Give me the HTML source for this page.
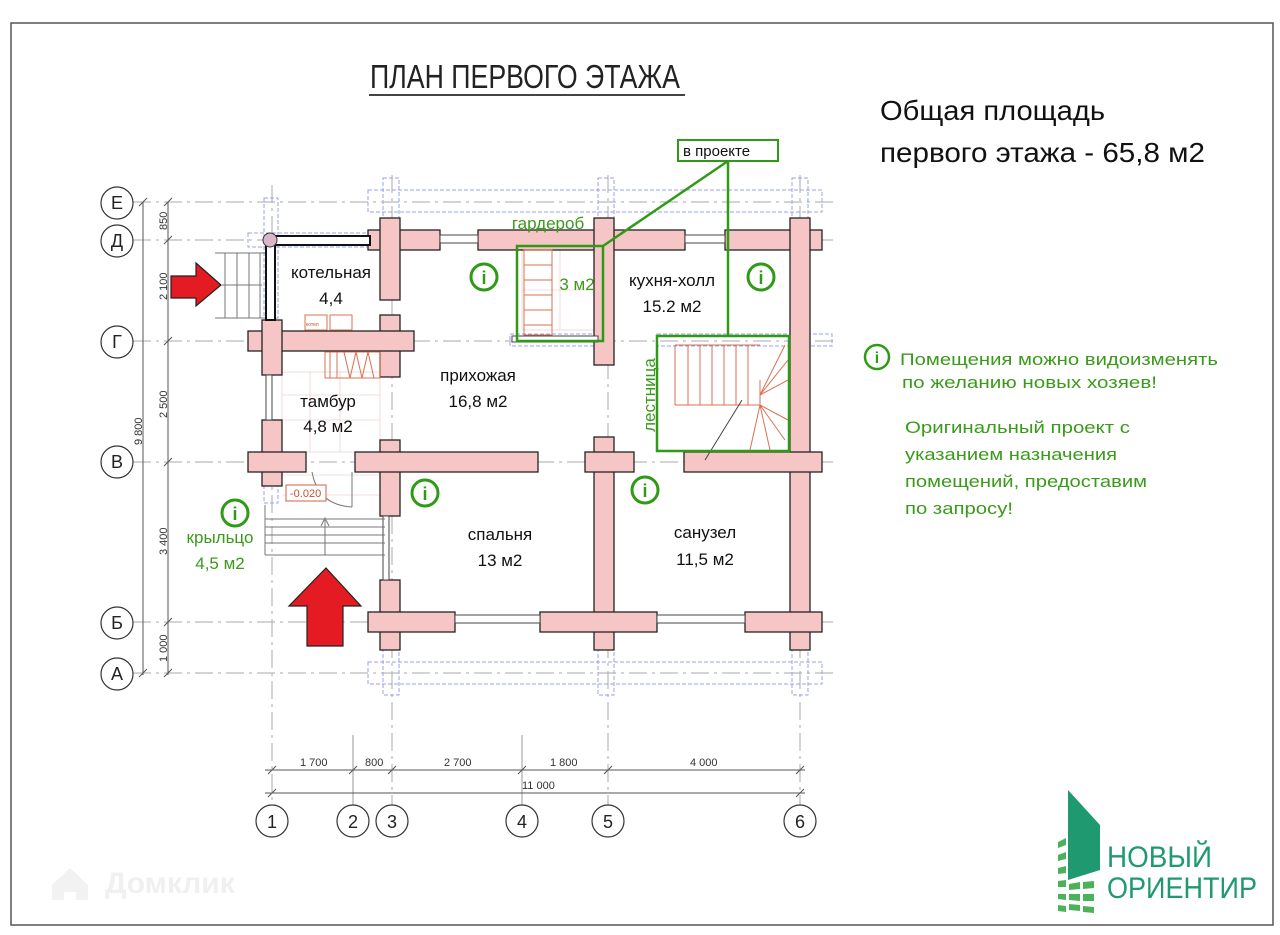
<!DOCTYPE html>
<html><head><meta charset="utf-8"><style>
html,body{margin:0;padding:0;background:#fff;}
svg{display:block;font-family:"Liberation Sans","Noto Sans CJK SC",sans-serif;}
</style></head><body>
<svg width="1280" height="935" viewBox="0 0 1280 935" xmlns="http://www.w3.org/2000/svg">
<rect x="0" y="0" width="1280" height="935" fill="#fff"/>
<rect x="11" y="23" width="1262" height="902" fill="none" stroke="#555" stroke-width="1.5"/>

<!-- title -->
<text x="370" y="88" font-size="33" textLength="310" lengthAdjust="spacingAndGlyphs" fill="#222">ПЛАН ПЕРВОГО ЭТАЖА</text>
<line x1="369" y1="95" x2="685" y2="95" stroke="#444" stroke-width="2"/>

<text x="880" y="120" font-size="28" fill="#111" textLength="225" lengthAdjust="spacingAndGlyphs">Общая площадь</text>
<text x="880" y="162" font-size="28" fill="#111" textLength="325" lengthAdjust="spacingAndGlyphs">первого этажа - 65,8 м2</text>

<!-- grid lines -->
<g stroke="#aaa" stroke-width="1" stroke-dasharray="18,5,3,5">
<line x1="133" y1="202" x2="835" y2="202"/>
<line x1="133" y1="240" x2="835" y2="240"/>
<line x1="133" y1="341" x2="835" y2="341"/>
<line x1="133" y1="462" x2="835" y2="462"/>
<line x1="133" y1="622" x2="835" y2="622"/>
<line x1="133" y1="673" x2="835" y2="673"/>
<line x1="272" y1="185" x2="272" y2="805"/>
<line x1="392" y1="175" x2="392" y2="805"/>
<line x1="608" y1="175" x2="608" y2="805"/>
<line x1="800" y1="175" x2="800" y2="805"/>
</g>
<g stroke="#999" stroke-width="1">
<line x1="353" y1="735" x2="353" y2="805"/>
<line x1="522" y1="735" x2="522" y2="805"/>
</g>

<!-- blue ghost rects -->
<g fill="none" stroke="#9aa0ee" stroke-width="1" stroke-dasharray="4,2">
<rect x="368" y="190" width="454" height="22"/>
<rect x="368" y="662" width="454" height="22"/>
<rect x="383" y="178" width="16" height="45"/>
<rect x="598" y="178" width="16" height="45"/>
<rect x="792" y="178" width="16" height="45"/>
<rect x="383" y="650" width="16" height="45"/>
<rect x="598" y="650" width="16" height="45"/>
<rect x="792" y="650" width="16" height="45"/>
<rect x="264" y="198" width="14" height="120"/>
<rect x="248" y="233" width="120" height="14"/>
<rect x="264" y="485" width="14" height="18"/>
<rect x="510" y="334" width="96" height="12"/>
<rect x="657" y="334" width="175" height="12"/>
</g>

<!-- interior light grids (tiles) -->
<g stroke="#f3d0d0" stroke-width="0.8" fill="none">
<rect x="282" y="372" width="98" height="80"/>
<line x1="282" y1="395" x2="380" y2="395"/><line x1="282" y1="420" x2="380" y2="420"/>
<line x1="310" y1="372" x2="310" y2="452"/><line x1="340" y1="372" x2="340" y2="452"/>
<rect x="522" y="250" width="72" height="80"/>
<line x1="560" y1="250" x2="560" y2="330"/><line x1="522" y1="290" x2="594" y2="290"/>
<line x1="282" y1="475" x2="385" y2="475"/><line x1="282" y1="495" x2="385" y2="495"/>
</g>

<!-- walls: outlines -->
<g fill="#f6c6c6" stroke="#222" stroke-width="1.3">
<rect x="368" y="230" width="72" height="20"/>
<rect x="478" y="230" width="207" height="20"/>
<rect x="725" y="230" width="97" height="20"/>
<rect x="380" y="218" width="20" height="82"/>
<rect x="380" y="315" width="20" height="62"/>
<rect x="380" y="440" width="20" height="76"/>
<rect x="380" y="580" width="20" height="70"/>
<rect x="594" y="218" width="20" height="147"/>
<rect x="594" y="437" width="20" height="213"/>
<rect x="790" y="218" width="20" height="432"/>
<rect x="248" y="331" width="166" height="20"/>
<rect x="262" y="320" width="20" height="55"/>
<rect x="262" y="420" width="20" height="66"/>
<rect x="248" y="452" width="58" height="20"/>
<rect x="355" y="452" width="183" height="20"/>
<rect x="585" y="452" width="49" height="20"/>
<rect x="684" y="452" width="138" height="20"/>
<rect x="368" y="612" width="87" height="20"/>
<rect x="540" y="612" width="117" height="20"/>
<rect x="745" y="612" width="77" height="20"/>
</g>
<g fill="#f6c6c6">
<rect x="381" y="231" width="18" height="18"/>
<rect x="595" y="231" width="18" height="18"/>
<rect x="791" y="231" width="18" height="18"/>
<rect x="381" y="332" width="18" height="18"/>
<rect x="263" y="332" width="18" height="18"/>
<rect x="381" y="453" width="18" height="18"/>
<rect x="263" y="453" width="18" height="18"/>
<rect x="595" y="453" width="18" height="18"/>
<rect x="791" y="453" width="18" height="18"/>
<rect x="381" y="613" width="18" height="18"/>
<rect x="595" y="613" width="18" height="18"/>
<rect x="791" y="613" width="18" height="18"/>
</g>
<!-- windows -->
<g fill="#fff" stroke="#444" stroke-width="1">
<rect x="440" y="235" width="38" height="8"/>
<rect x="685" y="235" width="40" height="8"/>
<rect x="455" y="615" width="85" height="8"/>
<rect x="657" y="615" width="88" height="8"/>
<rect x="383" y="516" width="6" height="64"/>
<rect x="266" y="375" width="6" height="45"/>
<rect x="512" y="336" width="86" height="6"/>
</g>
<!-- thin top-left wall -->
<rect x="270" y="236" width="100" height="9" fill="#fff" stroke="#111" stroke-width="2"/>
<rect x="266" y="240" width="9" height="80" fill="#fff" stroke="#111" stroke-width="2"/>
<circle cx="270" cy="240" r="7" fill="#d8b8c8" stroke="#333"/>

<!-- stairs at kotelnaya entry -->
<g stroke="#777" stroke-width="1" fill="none">
<line x1="215" y1="253" x2="265" y2="253"/><line x1="215" y1="318" x2="265" y2="318"/>
<line x1="225" y1="253" x2="225" y2="318"/><line x1="237" y1="253" x2="237" y2="318"/>
<line x1="249" y1="253" x2="249" y2="318"/><line x1="260" y1="253" x2="260" y2="318"/>
<line x1="222" y1="285" x2="262" y2="285"/>
</g>
<!-- porch steps -->
<g stroke="#777" stroke-width="1" fill="none">
<line x1="265" y1="519" x2="385" y2="519"/><line x1="265" y1="527" x2="385" y2="527"/>
<line x1="265" y1="535" x2="385" y2="535"/><line x1="265" y1="543" x2="385" y2="543"/>
<line x1="265" y1="555" x2="385" y2="555"/><line x1="265" y1="505" x2="265" y2="555"/>
<line x1="325" y1="520" x2="325" y2="555"/><polyline points="321,526 325,518 329,526"/>
<line x1="352" y1="472" x2="352" y2="507"/>
<path d="M312 472 Q318 505 352 507"/>
</g>
<rect x="286" y="485" width="40" height="16" fill="#fff" stroke="#d06040"/>
<text x="290" y="497" font-size="11" fill="#c05030">-0.020</text>

<!-- boiler & wardrobe & staircase in red -->
<g stroke="#d87050" stroke-width="1" fill="none">
<rect x="305" y="315" width="22" height="15"/><rect x="330" y="315" width="22" height="15"/>
<rect x="325" y="352" width="55" height="26"/>
<path d="M330 352 V378 M337 352 V378 M344 352 L350 378 L356 352 L362 378 L368 352 L374 378"/>
<rect x="524" y="250" width="28" height="85"/>
<path d="M524 265 H552 M524 280 H552 M524 295 H552 M524 310 H552 M524 325 H552"/>
<path d="M675 345 H760 M675 345 V405 M675 405 H760 V380 M688 345 V405 M700 345 V405 M712 345 V405 M724 345 V405 M736 345 V405 M748 345 V405"/>
<path d="M760 395 L785 345 M760 395 L788 360 M760 395 L788 380 M760 405 L788 420 M760 405 L785 440 M760 405 L770 450 M760 405 L750 450"/>
</g>
<text x="306" y="326" font-size="5" fill="#c05030">котел</text>
<line x1="705" y1="460" x2="742" y2="400" stroke="#444" stroke-width="1"/>

<!-- dimension lines -->
<g stroke="#555" stroke-width="1" fill="none">
<line x1="143" y1="202" x2="143" y2="675"/>
<line x1="168" y1="202" x2="168" y2="675"/>
<line x1="265" y1="770" x2="805" y2="770"/>
<line x1="265" y1="793" x2="805" y2="793"/>
<path d="M139 206 L147 198 M139 677 L147 669 M164 206 L172 198 M164 244 L172 236 M164 345 L172 337 M164 466 L172 458 M164 626 L172 618 M164 677 L172 669"/>
<path d="M268 774 L276 766 M349 774 L357 766 M388 774 L396 766 M518 774 L526 766 M604 774 L612 766 M796 774 L804 766 M268 797 L276 789 M796 797 L804 789"/>
</g>
<g font-size="11" fill="#333">
<text x="300" y="766">1 700</text><text x="365" y="766">800</text><text x="444" y="766">2 700</text>
<text x="550" y="766">1 800</text><text x="690" y="766">4 000</text><text x="522" y="789">11 000</text>
<text transform="translate(167,230) rotate(-90)">850</text>
<text transform="translate(167,300) rotate(-90)">2 100</text>
<text transform="translate(167,418) rotate(-90)">2 500</text>
<text transform="translate(142,445) rotate(-90)">9 800</text>
<text transform="translate(167,555) rotate(-90)">3 400</text>
<text transform="translate(167,662) rotate(-90)">1 000</text>
</g>

<!-- axis bubbles -->
<g fill="#fff" stroke="#333" stroke-width="1.2">
<circle cx="117" cy="203" r="16"/><circle cx="117" cy="241" r="16"/><circle cx="117" cy="342" r="16"/>
<circle cx="117" cy="462" r="16"/><circle cx="117" cy="623" r="16"/><circle cx="117" cy="674" r="16"/>
<circle cx="272" cy="821" r="16"/><circle cx="353" cy="821" r="16"/><circle cx="392" cy="821" r="16"/>
<circle cx="522" cy="821" r="16"/><circle cx="608" cy="821" r="16"/><circle cx="800" cy="821" r="16"/>
</g>
<g font-size="18" fill="#222" text-anchor="middle">
<text x="117" y="209">Е</text><text x="117" y="247">Д</text><text x="117" y="348">Г</text>
<text x="117" y="468">В</text><text x="117" y="629">Б</text><text x="117" y="680">А</text>
<text x="272" y="828">1</text><text x="353" y="828">2</text><text x="392" y="828">3</text>
<text x="522" y="828">4</text><text x="608" y="828">5</text><text x="800" y="828">6</text>
</g>

<!-- green overlays -->
<g stroke="#2f9a16" stroke-width="2.5" fill="none">
<rect x="517" y="246" width="86" height="95"/>
<rect x="657" y="336" width="132" height="115"/>
<rect x="678" y="140" width="100" height="21" stroke-width="2"/>
<line x1="728" y1="161" x2="603" y2="246"/>
<line x1="728" y1="161" x2="728" y2="336"/>
</g>
<text x="683" y="156" font-size="15" fill="#111">в проекте</text>

<!-- info icons -->
<g stroke="#2f9a16" stroke-width="3" fill="#fff">
<circle cx="484" cy="277" r="13"/><circle cx="761" cy="277" r="13"/><circle cx="425" cy="493" r="13"/>
<circle cx="645" cy="490" r="13"/><circle cx="235" cy="513" r="13"/><circle cx="877" cy="357" r="12" stroke-width="2.5"/>
</g>
<g font-size="18" font-weight="bold" fill="#2f9a16" text-anchor="middle">
<text x="484" y="284">i</text><text x="761" y="284">i</text><text x="425" y="500">i</text>
<text x="645" y="497">i</text><text x="235" y="520">i</text><text x="877" y="363" font-size="16">i</text>
</g>

<!-- room labels -->
<g font-size="17" fill="#111" text-anchor="middle">
<text x="331" y="278">котельная</text><text x="331" y="304">4,4</text>
<text x="478" y="381">прихожая</text><text x="478" y="407">16,8 м2</text>
<text x="328" y="407">тамбур</text><text x="328" y="432">4,8 м2</text>
<text x="672" y="286">кухня-холл</text><text x="672" y="312">15.2 м2</text>
<text x="500" y="540">спальня</text><text x="500" y="566">13 м2</text>
<text x="705" y="538">санузел</text><text x="705" y="565">11,5 м2</text>
</g>
<g font-size="17" fill="#3a9a1a" text-anchor="middle">
<text x="577" y="290">3 м2</text>
<text x="548" y="229">гардероб</text>
<text x="220" y="543">крыльцо</text><text x="220" y="569">4,5 м2</text>
<text transform="translate(655,395) rotate(-90)">лестница</text>
</g>

<!-- notes -->
<g font-size="17" fill="#3a9a1a">
<text x="900" y="365" textLength="318" lengthAdjust="spacingAndGlyphs">Помещения можно видоизменять</text>
<text x="902" y="388" textLength="255" lengthAdjust="spacingAndGlyphs">по желанию новых хозяев!</text>
<text x="905" y="433" textLength="225" lengthAdjust="spacingAndGlyphs">Оригинальный проект с</text>
<text x="905" y="460" textLength="212" lengthAdjust="spacingAndGlyphs">указанием назначения</text>
<text x="905" y="487" textLength="242" lengthAdjust="spacingAndGlyphs">помещений, предоставим</text>
<text x="905" y="514" textLength="108" lengthAdjust="spacingAndGlyphs">по запросу!</text>
</g>

<!-- red arrows -->
<g fill="#e51b23" stroke="#222" stroke-width="1.2">
<polygon points="171,276 196,276 196,263 221,285 196,306 196,298 171,298"/>
<polygon points="326,568 361,606 343,606 343,646 307,646 307,606 289,606"/>
</g>

<!-- watermark -->
<g fill="#f2f2f2">
<path d="M52 885 L70 868 L88 885 V900 H76 V892 H64 V900 H52 Z"/>
</g>
<text x="105" y="893" font-size="30" font-weight="bold" fill="#f0f0f0">Домклик</text>

<!-- logo -->
<polygon points="1068,790 1100,825 1100,870 1068,880" fill="#1f9a70"/>
<g fill="#4cb25a">
<polygon points="1058,842 1066,838 1066,845 1058,848"/><polygon points="1058,855 1066,852 1066,859 1058,861"/>
<polygon points="1058,868 1066,866 1066,873 1058,874"/><polygon points="1058,881 1066,880 1066,887 1058,887"/>
<polygon points="1058,894 1066,894 1066,900 1058,899"/><polygon points="1058,905 1066,906 1066,912 1058,911"/>
<polygon points="1069,884 1080,882 1080,889 1069,890"/><polygon points="1083,882 1094,881 1094,888 1083,889"/>
<polygon points="1069,894 1080,894 1080,901 1069,900"/><polygon points="1083,894 1094,894 1094,901 1083,901"/>
<polygon points="1069,904 1080,905 1080,911 1069,910"/><polygon points="1083,906 1094,907 1094,913 1083,912"/>
</g>
<text x="1107" y="867" font-size="30" fill="#1f9a70" textLength="105" lengthAdjust="spacingAndGlyphs">НОВЫЙ</text>
<text x="1107" y="898" font-size="30" fill="#1f9a70" textLength="150" lengthAdjust="spacingAndGlyphs">ОРИЕНТИР</text>
</svg>
</body></html>
